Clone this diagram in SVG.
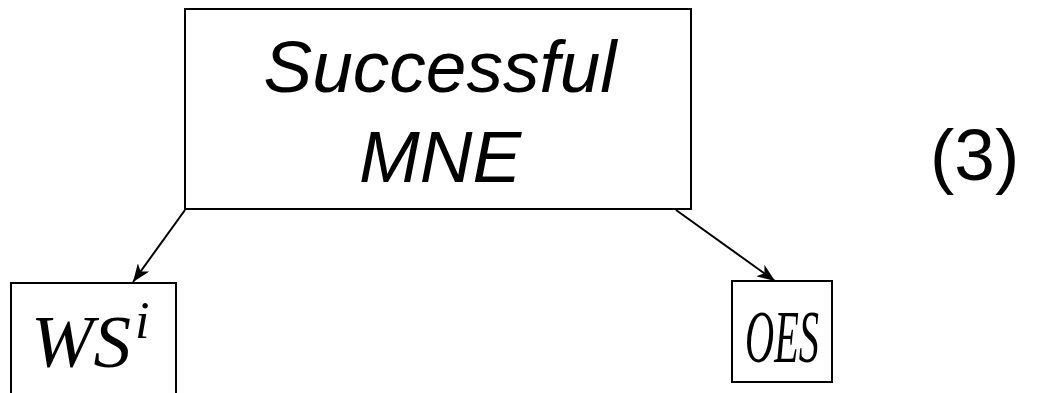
<svg xmlns="http://www.w3.org/2000/svg" width="1045" height="393" viewBox="0 0 1045 393">
<style>
.box{fill:#fff;stroke:#000;stroke-width:2}
.sans{font-family:"Liberation Sans",Arial,sans-serif;font-size:73px;fill:#000}
.math{font-family:"Liberation Serif","Times New Roman",serif;font-style:italic;font-size:75px;fill:#000}
.conn{stroke:#000;stroke-width:2;fill:none}
</style>
<defs>
<marker id="arr" viewBox="0 0 18 14" refX="18" refY="7" markerWidth="18" markerHeight="14" markerUnits="userSpaceOnUse" orient="auto">
<path d="M0,0 L18,7 L0,14 L5,7 z" fill="#000"/>
</marker>
</defs>
<rect width="1045" height="393" fill="#fff"/>
<g id="main">
<rect class="box" x="185" y="9" width="506" height="200"/>
<text class="sans" x="440" y="92" text-anchor="middle" font-style="italic">Successful</text>
<text class="sans" x="440" y="182" text-anchor="middle" font-style="italic">MNE</text>
</g>
<g id="ws">
<rect class="box" x="11" y="283" width="165" height="120"/>
<text class="math" x="31" y="367">WS<tspan font-size="52" dx="4" dy="-29">i</tspan></text>
</g>
<g id="oes">
<rect class="box" x="732" y="281" width="100" height="101"/>
<text class="math" x="782" y="362" text-anchor="middle" font-size="60" textLength="74" lengthAdjust="spacingAndGlyphs">OES</text>
</g>
<g id="eq">
<text class="sans" x="930" y="180">(3)</text>
</g>
<g id="connectors">
<line class="conn" x1="185" y1="210" x2="133" y2="282" marker-end="url(#arr)"/>
<line class="conn" x1="676" y1="210" x2="775" y2="281" marker-end="url(#arr)"/>
</g>
</svg>
